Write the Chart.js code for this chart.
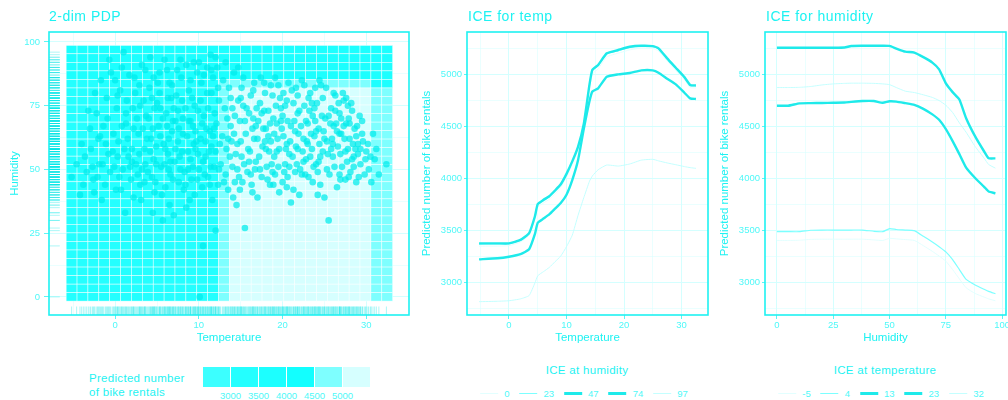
<!DOCTYPE html>
<html>
<head>
<meta charset="utf-8">
<script src="https://cdn.jsdelivr.net/npm/chart.js@4.4.0/dist/chart.umd.min.js"></script>
<style>
  body { margin: 0; background: #fff; width: 1008px; height: 400px; position: relative; overflow: hidden;
         font-family: "Liberation Sans", Arial, sans-serif; }
  canvas { position: absolute; top: 0; }
  .ptitle { position: absolute; top: 8px; font-size: 14px; line-height: 16px; letter-spacing: 0.5px; color: #1ef2f2; white-space: nowrap; }
  .legtitle { position: absolute; font-size: 11.5px; line-height: 14px; color: #1ef2f2; white-space: nowrap; letter-spacing: 0.3px; }
  .legrow { position: absolute; top: 388px; display: flex; align-items: center; transform: translateX(-50%); white-space: nowrap; }
  .legrow .sw { width: 18px; margin-right: 6px; }
  .legrow .lb { font-size: 9.5px; color: #4ff8f8; margin-right: 10px; }
  .cbar { position: absolute; left: 203px; top: 367px; display: flex; height: 20px; }
  .cbar div { width: 27px; height: 20px; margin-right: 1px; }
  .cblab { position: absolute; top: 390px; font-size: 9.5px; color: #4ff8f8; transform: translateX(-50%); }
</style>
</head>
<body>
<canvas id="pdp" width="415" height="350" style="left:0px"></canvas>
<canvas id="iceTemp" width="300" height="350" style="left:415px"></canvas>
<canvas id="iceHum" width="293" height="350" style="left:715px"></canvas>

<div class="ptitle" style="left:49px">2-dim PDP</div>
<div class="ptitle" style="left:468px">ICE for temp</div>
<div class="ptitle" style="left:766px">ICE for humidity</div>

<div class="legtitle" style="left:89px; top:371px; line-height:14px">Predicted number<br>of bike rentals</div>
<div class="cbar" id="cbar"></div>
<div id="cblabs"></div>

<div class="legtitle" style="left:587px; top:363px; transform:translateX(-50%)">ICE at humidity</div>
<div class="legrow" id="legTemp" style="left:589px"></div>
<div class="legtitle" style="left:885px; top:363px; transform:translateX(-50%)">ICE at temperature</div>
<div class="legrow" id="legHum" style="left:886px"></div>

<script>
// ---------- 2-dim PDP data ----------
const pdpTemp = [-5.2, -3.9, -2.6, -1.3, 0.0, 1.3, 2.6, 3.9, 5.2, 6.5, 7.8, 9.1, 10.4, 11.7, 13.0,
                 14.3, 15.6, 16.9, 18.2, 19.5, 20.8, 22.1, 23.4, 24.7, 26.0, 27.3, 28.6, 29.9, 31.2, 32.5];
const pdpHum = [0, 3.3, 6.7, 10, 13.4, 16.7, 20.1, 23.4, 26.8, 30.1, 33.4, 36.8, 40.1, 43.5, 46.8,
                50.2, 53.5, 56.9, 60.2, 63.6, 66.9, 70.2, 73.6, 76.9, 80.3, 83.6, 87.0, 90.3, 93.7, 97.0];
// prediction bin of every tile (rows from humidity 97 down to 0, columns along pdpTemp)
const pdpBreaks = [3000, 3500, 4000, 4500, 5000];
const pdpBinColors = ['#3cffff', '#24ffff', '#1cffff', '#12ffff', '#7effff', '#d6ffff'];
const pdpRows = [
  '222222222222222222222222222222',
  '222222222222222222222222222222',
  '222222222222222222222222222222',
  '222222222222222222222222222222',
  '111111111111114444444444444422',
  '111111111111114555555555555544',
  '111111111111114555555555555544',
  '111111111111114555555555555544',
  '111111111111114555555555555544',
  '111111111111114555555555555544',
  '111111111111114555555555555544',
  '111111111111114555555555555544',
  '111111111111114555555555555544',
  '111111111111114555555555555544',
  '111111111111114555555555555544',
  '111111111111114555555555555544',
  '111111111111114555555555555544',
  '111111111111114555555555555544',
  '111111111111114555555555555544',
  '111111111111114555555555555544',
  '111111111111114555555555555544',
  '111111111111114555555555555544',
  '111111111111114555555555555544',
  '111111111111114555555555555544',
  '111111111111114555555555555544',
  '111111111111114555555555555544',
  '111111111111114555555555555544',
  '111111111111114555555555555544',
  '111111111111114555555555555544',
  '111111111111114555555555555544'
];

// observed days [temperature, humidity]
const obs = [
  [-5.2,47],[-4.6,52],[-3.8,44],[-3.4,49],[-2.9,58],[-2.5,41],[-2.1,47],[-1.8,63],[-1.5,52],[-1.2,44],
  [-0.9,70],[-0.6,49],[-0.3,57],[0.1,42],[0.4,61],[0.6,81],[0.9,50],[1.2,33],[1.3,68],[1.6,55],
  [1.9,46],[2.1,74],[2.3,86],[2.5,52],[2.8,64],[3.0,44],[3.2,91],[3.5,58],[3.7,71],[3.9,49],
  [4.1,82],[4.3,62],[4.5,33],[4.6,54],[4.8,45],[5.0,76],[5.2,67],[5.3,88],[5.5,51],[5.7,30],
  [5.8,60],[6.0,43],[6.1,72],[6.3,56],[6.5,84],[6.6,48],[6.8,65],[7.0,32],[7.1,53],[7.3,79],
  [7.5,61],[7.6,45],[7.8,93],[8.0,57],[8.1,70],[8.3,49],[8.5,35],[8.6,63],[8.8,81],[9.0,54],
  [9.1,46],[9.3,67],[9.5,75],[9.6,58],[9.8,88],[10.0,50],[10.1,0],[10.2,62],[10.4,43],[10.5,20],
  [10.6,71],[10.8,55],[11.0,80],[11.1,47],[11.3,65],[11.5,59],[11.7,86],[11.8,51],[12.0,26],[12.1,68],
  [12.3,44],[12.4,77],[-4.0,60],[-3.0,66],[-2.2,72],[-1.0,78],[0.0,85],[0.8,90],[1.5,62],[2.0,58],
  [2.7,48],[3.3,66],[3.6,52],[4.0,70],[4.4,47],[4.9,59],[5.4,74],[5.9,52],[6.4,62],[6.9,46],
  [7.2,69],[7.7,55],[8.2,42],[8.7,50],[9.2,78],[9.7,61],[10.3,84],[10.7,48],[11.2,57],[11.9,72],
  [12.2,90],[1.0,96],[4.2,94],[6.2,89],[9.4,92],[11.4,95],[2.4,80],[7.9,86],[-0.5,88],[5.6,40],
  [8.9,38],[3.1,38],[0.3,55],[-1.9,52],[6.7,78],[10.9,66],[9.9,73],[-4.2,40],[-1.6,38],[0.7,42],
  [2.2,39],[4.7,41],[6.5,36],[8.4,44],[9.5,40],[11.6,38],
  [-3.6,55],[-2.7,51],[-2.0,62],[-1.4,67],[-0.8,56],[-0.2,64],[0.2,74],[0.5,47],[1.1,58],[1.4,77],
  [1.8,51],[2.2,66],[2.6,70],[2.9,56],[3.4,77],[3.8,62],[4.2,57],[4.5,66],[4.9,52],[5.1,84],
  [5.4,63],[5.7,70],[6.0,58],[6.3,78],[6.6,53],[6.9,69],[7.2,58],[7.5,73],[7.8,50],[8.1,64],
  [8.4,74],[8.7,57],[9.0,69],[9.3,51],[9.6,65],[9.9,56],[10.2,77],[10.5,53],[10.8,61],[11.1,74],
  [11.4,51],[11.7,63],[12.0,57],[12.3,82],[-3.2,73],[-2.4,80],[-1.7,85],[-0.7,93],[0.3,79],[1.7,87],
  [2.9,83],[3.6,89],[4.6,86],[5.9,93],[6.8,83],[7.4,89],[8.5,91],[9.0,85],[10.0,92],[10.6,87],
  [11.0,90],[12.0,94],[3.0,75],[5.3,80],[8.0,77],[11.5,80],[-1.1,60],[0.8,67],[2.0,53],[3.2,50],
  [4.7,74],[6.2,67],[7.6,66],[9.4,60],[10.4,68],[11.8,66],[1.3,72],[4.4,78],[7.0,74],[8.8,69],
  [-2.6,46],[-0.1,51],[3.5,45],[6.4,50],[9.8,46],[11.3,44],[12.5,60],[12.4,50],
  [12.6,52],[12.8,63],[13.0,45],[13.1,74],[13.3,58],[13.5,42],[13.6,82],[13.8,67],[14.0,51],[14.1,39],
  [14.3,71],[14.5,36],[14.6,60],[14.8,47],[15.0,78],[15.1,55],[15.3,86],[15.5,27],[15.6,64],[15.8,49],
  [16.0,72],[16.1,57],[16.3,44],[16.5,81],[16.6,62],[16.8,53],[17.0,39],[17.1,69],[17.3,76],[17.5,47],
  [17.6,59],[17.8,84],[18.0,66],[18.1,51],[18.3,73],[18.5,44],[18.6,61],[18.8,79],[19.0,55],[19.1,48],
  [19.3,68],[19.5,83],[19.6,58],[19.8,74],[20.0,45],[20.1,63],[20.3,52],[20.5,77],[20.6,69],[20.8,56],
  [21.0,37],[21.1,81],[21.3,42],[21.5,65],[21.6,59],[21.8,72],[22.0,40],[22.1,50],[22.3,85],[22.5,62],
  [22.6,75],[22.8,54],[23.0,68],[23.1,47],[23.3,80],[23.5,58],[23.6,71],[23.8,63],[24.0,52],[24.1,76],
  [24.3,66],[24.5,44],[24.6,83],[24.8,57],[25.0,39],[25.1,70],[25.3,61],[25.5,30],[25.6,48],[25.8,74],
  [26.0,55],[26.1,67],[26.3,79],[26.5,43],[26.6,59],[26.8,72],[27.0,64],[27.1,51],[27.3,77],[27.5,46],
  [27.6,68],[27.8,58],[28.0,62],[28.1,49],[28.3,73],[28.5,55],[28.6,66],[28.8,45],[29.0,60],[29.3,52],
  [29.5,69],[29.8,48],[30.0,57],[30.3,50],[30.6,45],[31.0,54],[31.5,48],[32.4,52],
  [13.9,61],[14.9,69],[15.7,74],[16.4,66],[17.2,55],[17.9,61],[18.4,57],[18.9,70],[19.4,62],[19.9,66],
  [20.4,58],[20.9,61],[21.4,69],[21.9,64],[22.4,57],[22.9,61],[23.4,64],[23.9,69],[24.4,60],[24.9,65],
  [25.4,56],[25.9,62],[26.4,68],[26.9,56],[27.4,62],[27.9,70],[28.4,60],[16.9,74],[19.7,78],[21.7,52],
  [24.2,49],[26.2,51],[15.4,52],[18.2,46],[20.2,49],[22.7,48],[14.4,56],[13.4,70],[12.9,85],[14.2,88],
  [17.4,86],[20.7,84],[25.2,82],[26.7,76],[28.9,67],[27.2,80],[29.6,61],[30.8,64],[31.2,58],[13.2,92],
  [11.5,89],[14.7,90],
  [13.2,48],[13.7,55],[14.2,64],[14.7,77],[15.2,45],[15.9,58],[16.2,79],[16.7,50],[17.7,66],[18.7,52],
  [19.2,75],[20.6,47],[21.2,55],[21.8,79],[22.2,67],[23.2,73],[23.7,51],[24.7,71],[25.7,68],[26.8,64],
  [27.7,53],[28.2,76],[28.7,58],[29.2,71],[29.9,54],[13.5,62],[14.0,74],[14.6,50],[15.0,61],[15.5,69],
  [16.0,53],[16.5,70],[17.0,62],[17.5,72],[18.0,58],[18.5,68],[19.0,64],[19.5,51],[20.0,71],[20.5,60],
  [21.0,67],[21.5,49],[22.0,73],[22.5,53],[23.0,60],[23.5,76],[24.0,65],[24.5,55],[25.0,62],[25.5,71],
  [26.0,60],[26.5,65],[27.0,70],[27.5,57],[28.0,68],[28.5,51],[29.0,56],[29.5,64],[30.2,60],[30.5,55],
  [13.8,78],[14.3,45],[15.3,75],[16.2,48],[16.8,67],[17.3,50],[17.8,73],[18.3,63],[18.8,49],[19.3,57],
  [19.8,69],[20.3,75],[20.8,51],[21.3,76],[21.8,58],[22.3,48],[22.8,69],[23.3,55],[23.8,74],[24.3,53],
  [24.8,78],[25.3,50],[25.8,58],[26.3,73],[26.8,48],[27.3,67],[27.8,75],[28.3,54],[28.8,63],[29.3,58],
  [15.1,82],[16.6,84],[18.6,83],[19.1,86],[21.6,82],[22.6,83],[23.9,82],[24.4,85],[17.9,80],[20.1,80],
  [23.1,78],[26.1,80],[27.6,78],[14.9,42],[16.4,41],[18.9,44],[20.5,43],[23.6,45],[26.9,46],[27.9,47],
  [29.1,47],[19.6,41],[24.2,40]
];

// ---------- ICE for temp (one curve per humidity level) ----------
const iceTempX = [-5.2, -2, 0, 2, 3.5, 4.5, 5, 6, 7, 8, 9, 10, 11, 12, 13, 14, 14.5, 15.5,
                  17, 19, 21, 23, 25, 26, 27.5, 29, 30.5, 31.5, 32.5];
const iceTempHum0  = [3345,3345,3350,3385,3450,3600,3720,3760,3795,3850,3910,4010,4130,4270,4480,4860,5000,5050,5165,5200,5232,5250,5245,5222,5125,5035,4945,4870,4866];
const iceTempHum23 = [3365,3366,3368,3400,3462,3622,3742,3782,3818,3872,3932,4032,4152,4292,4512,4892,5032,5080,5192,5225,5256,5268,5264,5242,5145,5055,4965,4890,4886];
const iceTempHum47 = [3372,3372,3372,3405,3470,3630,3750,3790,3825,3880,3940,4040,4160,4300,4520,4900,5040,5087,5199,5231,5262,5272,5268,5247,5150,5060,4970,4895,4890];
const iceTempHum74 = [3218,3228,3243,3268,3315,3460,3570,3610,3650,3705,3760,3840,3980,4170,4470,4740,4832,4862,4974,4997,5010,5035,5035,5013,4955,4900,4820,4766,4760];
const iceTempHum97 = [2811,2815,2820,2838,2870,2990,3060,3100,3140,3195,3250,3340,3450,3640,3810,3970,4020,4080,4125,4115,4135,4172,4180,4165,4145,4128,4110,4100,4093];
const humLevels = ['0', '23', '47', '74', '97'];

// ---------- ICE for humidity (one curve per temperature level) ----------
const iceHumX = [0, 5, 10, 15, 20, 25, 30, 33, 38, 43, 47, 50, 53, 57, 61, 65, 69, 72, 75, 78, 81, 84, 88, 92, 94, 97];
const iceHumTempM5 = [3400,3400,3402,3410,3412,3412,3412,3412,3412,3405,3400,3420,3415,3408,3400,3350,3295,3250,3200,3120,3030,2945,2890,2855,2838,2820];
const iceHumTemp4  = [3484,3484,3484,3498,3500,3500,3500,3500,3500,3488,3484,3514,3505,3500,3494,3440,3385,3340,3290,3215,3120,3025,2972,2930,2910,2888];
const iceHumTemp13 = [4695,4695,4718,4720,4722,4724,4726,4732,4740,4740,4724,4738,4735,4720,4704,4665,4612,4560,4470,4355,4230,4100,4000,3915,3870,3853];
const iceHumTemp23 = [5253,5253,5253,5253,5253,5253,5255,5270,5272,5272,5272,5270,5245,5215,5206,5162,5110,5045,4910,4826,4755,4575,4400,4255,4190,4189];
const iceHumTemp32 = [4870,4870,4872,4880,4895,4905,4910,4912,4912,4910,4905,4898,4870,4835,4822,4800,4775,4745,4700,4630,4530,4440,4303,4190,4130,4095];
const tempLevels = ['-5', '4', '13', '23', '32'];

// ---------- styling ----------
const TEXT = '#1ef2f2';
const TICKTEXT = '#4ff8f8';
const GRID = '#d4ffff';
const FRAME = '#1ef2f2';
const levelColors = ['#e2ffff', '#7cffff', '#1eeaea', '#1eeaea', '#c4ffff'];
const levelWidths = [1, 1.2, 2.4, 2.4, 1];

Chart.defaults.font.family = '"Liberation Sans", Arial, sans-serif';
Chart.defaults.animation = false;

const frame = {
  id: 'frame',
  afterDraw(chart) {
    const {ctx, chartArea: a} = chart;
    ctx.save();
    ctx.strokeStyle = FRAME;
    ctx.lineWidth = 1.6;
    ctx.strokeRect(a.left, a.top, a.right - a.left, a.bottom - a.top);
    ctx.restore();
  }
};

function edges(centers) {
  const e = [];
  for (let i = 0; i <= centers.length; i++) {
    if (i === 0) e.push(centers[0] - (centers[1] - centers[0]) / 2);
    else if (i === centers.length) e.push(centers[i - 1] + (centers[i - 1] - centers[i - 2]) / 2);
    else e.push((centers[i - 1] + centers[i]) / 2);
  }
  return e;
}

const tiles = {
  id: 'tiles',
  beforeDatasetsDraw(chart) {
    const {ctx, scales: {x, y}} = chart;
    const xe = edges(pdpTemp), ye = edges(pdpHum);
    ctx.save();
    pdpRows.forEach((row, r) => {
      const hi = pdpHum.length - 1 - r;
      for (let c = 0; c < row.length; c++) {
        const x0 = x.getPixelForValue(xe[c]), x1 = x.getPixelForValue(xe[c + 1]);
        const y0 = y.getPixelForValue(ye[hi + 1]), y1 = y.getPixelForValue(ye[hi]);
        ctx.fillStyle = pdpBinColors[+row[c]];
        ctx.fillRect(x0, y0, x1 - x0, y1 - y0);
        ctx.strokeStyle = 'rgba(255,255,255,0.75)';
        ctx.lineWidth = 0.6;
        ctx.strokeRect(x0, y0, x1 - x0, y1 - y0);
      }
    });
    ctx.restore();
  },
  afterDatasetsDraw(chart) {
    // rugs along the bottom and left edges
    const {ctx, chartArea: a, scales: {x, y}} = chart;
    const lenX = 0.03 * (a.bottom - a.top), lenY = 0.03 * (a.right - a.left);
    ctx.save();
    ctx.strokeStyle = 'rgba(0,230,230,0.55)';
    ctx.lineWidth = 0.6;
    ctx.beginPath();
    obs.forEach(([t, h]) => {
      const px = x.getPixelForValue(t), py = y.getPixelForValue(h);
      ctx.moveTo(px, a.bottom); ctx.lineTo(px, a.bottom - lenX);
      ctx.moveTo(a.left, py); ctx.lineTo(a.left + lenY, py);
    });
    ctx.stroke();
    ctx.restore();
  }
};

function axis(opts) {
  const {min, max, ticks, majors, title, size, vertical, tickLength, padding, titlePad} = opts;
  const isMajor = v => majors.includes(v);
  return {
    type: 'linear', min, max,
    afterBuildTicks: s => { s.ticks = ticks.map(v => ({value: v})); },
    afterFit: s => {
      if (vertical) s.width = size; else s.height = size;
      s.paddingLeft = 0; s.paddingRight = 0; s.paddingTop = 0; s.paddingBottom = 0;
    },
    border: {display: false},
    grid: {
      color: GRID,
      lineWidth: c => (c.tick && isMajor(c.tick.value)) ? 1 : 0.5,
      tickColor: c => (c.tick && isMajor(c.tick.value)) ? '#5cf6f6' : 'rgba(0,0,0,0)',
      tickLength: tickLength,
      tickWidth: 1
    },
    ticks: {
      autoSkip: false, maxRotation: 0, padding: padding,
      color: TICKTEXT, font: {size: 9.5},
      callback: v => isMajor(v) ? String(v) : ''
    },
    title: {display: true, text: title, color: TEXT, font: {size: 11.5}, padding: titlePad}
  };
}

// ---------- panel 1 ----------
new Chart(document.getElementById('pdp'), {
  type: 'scatter',
  data: {
    datasets: [{
      data: obs.map(([t, h]) => ({x: t, y: h})),
      backgroundColor: 'rgba(0,236,236,0.72)',
      borderWidth: 0,
      pointRadius: 3.3
    }]
  },
  options: {
    responsive: false,
    layout: {padding: {left: 0, top: 32, right: 6, bottom: 0}},
    plugins: {legend: {display: false}, tooltip: {enabled: false}},
    scales: {
      x: axis({min: -7.9, max: 35.1, ticks: [-5, 0, 5, 10, 15, 20, 25, 30], majors: [0, 10, 20, 30],
               title: 'Temperature', size: 35, tickLength: 4, padding: 1, titlePad: {top: 0, bottom: 5}}),
      y: axis({min: -7.1, max: 103.9, ticks: [0, 12.5, 25, 37.5, 50, 62.5, 75, 87.5, 100], majors: [0, 25, 50, 75, 100],
               title: 'Humidity', size: 49, vertical: true, tickLength: 5, padding: 4, titlePad: {top: 8, bottom: 0}})
    }
  },
  plugins: [tiles, frame]
});

// ---------- ICE panels ----------
function iceChart(id, xs, series, levels, xAxis, yWidth, rightPad, yTitlePad) {
  new Chart(document.getElementById(id), {
    type: 'line',
    data: {
      datasets: series.map((ys, i) => ({
        label: levels[i],
        data: xs.map((x, j) => ({x: x, y: ys[j]})),
        borderColor: levelColors[i],
        borderWidth: levelWidths[i],
        pointRadius: 0,
        tension: 0.15,
        order: levelWidths[i] > 2 ? 0 : 1
      }))
    },
    options: {
      responsive: false,
      layout: {padding: {left: 0, top: 32, right: rightPad, bottom: 0}},
      plugins: {legend: {display: false}, tooltip: {enabled: false}},
      scales: {
        x: xAxis,
        y: axis({min: 2683, max: 5404, ticks: [2750, 3000, 3250, 3500, 3750, 4000, 4250, 4500, 4750, 5000, 5250],
                 majors: [3000, 3500, 4000, 4500, 5000], title: 'Predicted number of bike rentals',
                 size: yWidth, vertical: true, tickLength: 3, padding: 2, titlePad: {top: yTitlePad, bottom: 0}})
      }
    },
    plugins: [frame]
  });
}

iceChart('iceTemp', iceTempX, [iceTempHum0, iceTempHum23, iceTempHum47, iceTempHum74, iceTempHum97], humLevels,
  axis({min: -7.3, max: 34.6, ticks: [-5, 0, 5, 10, 15, 20, 25, 30], majors: [0, 10, 20, 30],
        title: 'Temperature', size: 35, tickLength: 4, padding: 1, titlePad: {top: 0, bottom: 5}}), 52, 7, 5);

iceChart('iceHum', iceHumX, [iceHumTempM5, iceHumTemp4, iceHumTemp13, iceHumTemp23, iceHumTemp32], tempLevels,
  axis({min: -5.3, max: 101.7, ticks: [0, 12.5, 25, 37.5, 50, 62.5, 75, 87.5, 100], majors: [0, 25, 50, 75, 100],
        title: 'Humidity', size: 35, tickLength: 4, padding: 1, titlePad: {top: 0, bottom: 5}}), 50, 2, 3);

// ---------- legends ----------
function lineLegend(id, levels) {
  const row = document.getElementById(id);
  levels.forEach((lv, i) => {
    const sw = document.createElement('div');
    sw.className = 'sw';
    sw.style.height = levelWidths[i] + 'px';
    sw.style.background = levelColors[i];
    const lb = document.createElement('span');
    lb.className = 'lb';
    lb.textContent = lv;
    row.appendChild(sw);
    row.appendChild(lb);
  });
}
lineLegend('legTemp', humLevels);
lineLegend('legHum', tempLevels);

const cbar = document.getElementById('cbar');
pdpBinColors.forEach(c => {
  const d = document.createElement('div');
  d.style.background = c;
  cbar.appendChild(d);
});
const cblabs = document.getElementById('cblabs');
pdpBreaks.forEach((b, i) => {
  const s = document.createElement('div');
  s.className = 'cblab';
  s.style.left = (203 + 28 * (i + 1) - 0.5) + 'px';
  s.textContent = b;
  cblabs.appendChild(s);
});
</script>
</body>
</html>
